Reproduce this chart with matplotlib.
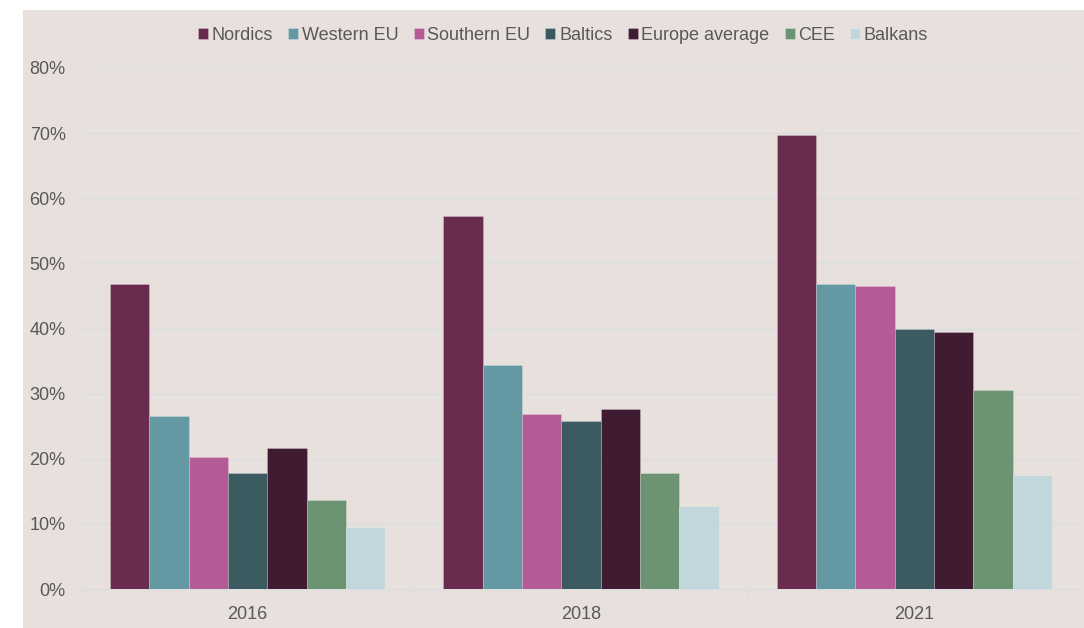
import matplotlib
matplotlib.use("Agg")
import matplotlib.pyplot as plt
from matplotlib.patches import Rectangle
from matplotlib.ticker import FuncFormatter, FixedLocator
import numpy as np

years = ["2016", "2018", "2021"]
series = ["Nordics", "Western EU", "Southern EU", "Baltics", "Europe average", "CEE", "Balkans"]

nordics = [46.9, 57.3, 69.7]
western_eu = [26.6, 34.4, 46.8]
southern_eu = [20.2, 26.8, 46.6]
baltics = [17.8, 25.8, 40.0]
europe_average = [21.6, 27.7, 39.5]
cee = [13.6, 17.8, 30.6]
balkans = [9.5, 12.8, 17.5]

values = [nordics, western_eu, southern_eu, baltics, europe_average, cee, balkans]
colors = ["#6a2c4e", "#6498a2", "#b45a94", "#3b5b60", "#3f1c31", "#6c9372", "#c2d7dc"]

plt.rcParams["font.family"] = ["Liberation Sans", "DejaVu Sans"]
text_color = "#595959"
bg_color = "#e7e0dc"
grid_color = "#dcdfe2"

fig = plt.figure(figsize=(10.84, 6.28), dpi=100)
fig.patch.set_facecolor("white")
fig.patches.append(Rectangle((23 / 1084, 0), 1, 1 - 10 / 628, transform=fig.transFigure,
                             facecolor=bg_color, edgecolor="none", zorder=-10))

ax = fig.add_axes([81 / 1084, 1 - 589 / 628, 1000 / 1084, 521 / 628])
ax.set_facecolor("none")

x = np.arange(len(years))
width = 0.118
for i, (name, vals, col) in enumerate(zip(series, values, colors)):
    ax.bar(x + (i - 3) * width, np.array(vals) / 100, width, color=col, label=name,
           edgecolor=(1, 1, 1, 0.25), linewidth=0.6, zorder=3)

ax.set_xlim(-0.5, len(years) - 0.5)
ax.set_ylim(0, 0.8)
ax.yaxis.set_major_locator(FixedLocator(np.arange(0, 0.81, 0.1)))
ax.yaxis.set_major_formatter(FuncFormatter(lambda v, p: f"{v * 100:.0f}%"))
ax.grid(axis="y", color=grid_color, linewidth=1, zorder=0)

ax.set_xticks(x)
ax.set_xticklabels(years)
ax.set_xticks(np.arange(-0.5, len(years), 1), minor=True)
ax.tick_params(axis="x", which="major", length=0, pad=12, labelsize=13, labelcolor=text_color)
ax.tick_params(axis="x", which="minor", length=5, color=grid_color, width=1)
ax.tick_params(axis="y", length=0, pad=11, labelsize=13, labelcolor=text_color)

for s in ["top", "right", "left"]:
    ax.spines[s].set_visible(False)
ax.spines["bottom"].set_color(grid_color)
ax.spines["bottom"].set_linewidth(1)

fig.legend(loc="center", bbox_to_anchor=(563 / 1084, 1 - 35 / 628), ncol=7, frameon=False,
           fontsize=13, handlelength=0.55, handleheight=0.55, handletextpad=0.2,
           columnspacing=0.85, labelcolor=text_color)

fig.savefig("out.png", dpi=100)
